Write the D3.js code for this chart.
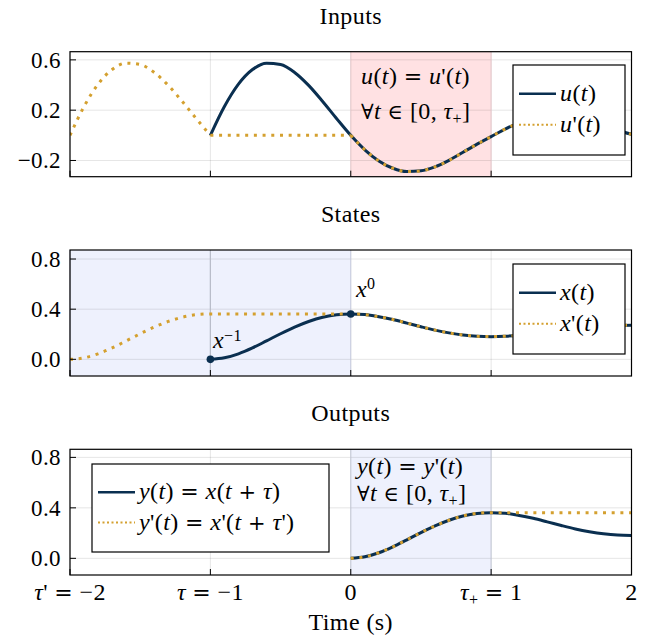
<!DOCTYPE html>
<html lang="en">
<head>
<meta charset="UTF-8">
<script src="https://d3js.org/d3.v7.min.js"></script>
<style>
    body { margin: 0; background: #fff; }
    svg text { font-family: "Liberation Serif", serif; fill: #000; letter-spacing: 0.4px; }
    .sym { font-family: "DejaVu Serif", serif; font-style: normal; }
</style>
</head>
<body>
<svg id="chart" width="648" height="637"></svg>
<script>
    // sampled time axis (s)
    const time = [-2.0, -1.9, -1.8, -1.7, -1.6, -1.5, -1.4, -1.3, -1.2, -1.1,
        -1.0, -0.9, -0.8, -0.7, -0.6, -0.5, -0.4, -0.3, -0.2, -0.1,
        0.0, 0.1, 0.2, 0.3, 0.4, 0.5, 0.6, 0.7, 0.8, 0.9,
        1.0, 1.1, 1.2, 1.3, 1.4, 1.5, 1.6, 1.7, 1.8, 1.9, 2.0];

    const N = null;
    // inputs
    const u = [N, N, N, N, N, N, N, N, N, N,
        0, 0.229, 0.407, 0.523, 0.574, 0.563, 0.500, 0.397, 0.269, 0.132,
        0, -0.115, -0.204, -0.262, -0.288, -0.282, -0.251, -0.199, -0.135, -0.070,
        -0.010, 0.050, 0.098, 0.128, 0.142, 0.141, 0.127, 0.102, 0.071, 0.038, 0.008];
    const uPrime = [0, 0.229, 0.407, 0.523, 0.574, 0.563, 0.500, 0.397, 0.269, 0.132,
        0, 0, 0, 0, 0, 0, 0, 0, 0, 0,
        0, -0.115, -0.204, -0.262, -0.288, -0.282, -0.251, -0.199, -0.135, -0.070,
        -0.010, 0.050, 0.098, 0.128, 0.142, 0.141, 0.127, 0.102, 0.071, 0.038, 0.008];
    // states
    const x = [N, N, N, N, N, N, N, N, N, N,
        0, 0.012, 0.044, 0.091, 0.147, 0.204, 0.257, 0.302, 0.336, 0.356,
        0.362, 0.357, 0.340, 0.317, 0.289, 0.260, 0.233, 0.211, 0.194, 0.184,
        0.181, 0.184, 0.192, 0.204, 0.218, 0.232, 0.245, 0.257, 0.265, 0.270, 0.272];
    const xPrime = [0, 0.012, 0.044, 0.091, 0.147, 0.204, 0.257, 0.302, 0.336, 0.356,
        0.362, 0.362, 0.362, 0.362, 0.362, 0.362, 0.362, 0.362, 0.362, 0.362,
        0.362, 0.357, 0.340, 0.317, 0.289, 0.260, 0.233, 0.211, 0.194, 0.184,
        0.181, 0.184, 0.192, 0.204, 0.218, 0.232, 0.245, 0.257, 0.265, 0.270, 0.272];
    // outputs
    const y = [N, N, N, N, N, N, N, N, N, N,
        N, N, N, N, N, N, N, N, N, N,
        0, 0.012, 0.044, 0.091, 0.147, 0.204, 0.257, 0.302, 0.336, 0.356,
        0.362, 0.357, 0.340, 0.317, 0.289, 0.260, 0.233, 0.211, 0.194, 0.184, 0.181];
    const yPrime = [N, N, N, N, N, N, N, N, N, N,
        N, N, N, N, N, N, N, N, N, N,
        0, 0.012, 0.044, 0.091, 0.147, 0.204, 0.257, 0.302, 0.336, 0.356,
        0.362, 0.362, 0.362, 0.362, 0.362, 0.362, 0.362, 0.362, 0.362, 0.362, 0.362];

    const stateMarkers = [{ t: -1, v: 0 }, { t: 0, v: 0.362 }];

    const xTicks = [-2, -1, 0, 1, 2];
    const yTicksInputs = [-0.2, 0.2, 0.6];
    const yTicksStates = [0.0, 0.4, 0.8];
    const yTicksOutputs = [0.0, 0.4, 0.8];
    const titles = ["Inputs", "States", "Outputs"];

    // little helpers for the math-ish labels
    const it = s => `<tspan font-style="italic">${s}</tspan>`;
    const eq = ` <tspan class="sym" font-size="22">=</tspan> `;
    const plus = ` <tspan class="sym" font-size="21">+</tspan> `;
    const tauPlus = after => `${it("τ")}<tspan dy="5" font-size="16">+</tspan><tspan dy="-5">${after}</tspan>`;
    const forAll = `<tspan class="sym" font-size="21">∀</tspan>${it("t")} <tspan class="sym" font-size="21">∈</tspan> [0, ${tauPlus("]")}`;
    const xTickLabels = [
        `${it("τ")}'${eq}−2`,
        `${it("τ")}${eq}−1`,
        `0`,
        tauPlus(`${eq}1`),
        `2`
    ];

    const navy = "#0a2f50", gold = "#d4a02f";
    const left = 70, right = 631.5;
    const fs = 24;

    const svg = d3.select("#chart");
    const xScale = d3.scaleLinear().domain([-2, 2]).range([left, right]);

    function makePanel(idx, top, bottom, domain, ticks) {
        const g = svg.append("g");
        const yScale = d3.scaleLinear().domain(domain).range([bottom, top]);
        g.append("clipPath").attr("id", "clip" + idx)
            .append("rect").attr("x", left).attr("y", top)
            .attr("width", right - left).attr("height", bottom - top);
        g.append("text")
            .attr("x", (left + right) / 2).attr("y", top - 28)
            .attr("text-anchor", "middle").attr("font-size", fs)
            .text(titles[idx]);
        return { g, yScale, top, bottom, ticks, clip: "url(#clip" + idx + ")" };
    }

    function span(p, t0, t1, fill, edge) {
        p.g.append("rect")
            .attr("x", xScale(t0)).attr("y", p.top)
            .attr("width", xScale(t1) - xScale(t0)).attr("height", p.bottom - p.top)
            .attr("fill", fill);
        p.edges = (p.edges || []).concat([[t0, edge], [t1, edge]]);
    }

    function grid(p) {
        const gg = p.g.append("g").attr("stroke", "#000").attr("stroke-opacity", 0.1).attr("stroke-width", 1);
        xTicks.forEach(t => gg.append("line")
            .attr("x1", xScale(t)).attr("x2", xScale(t)).attr("y1", p.top).attr("y2", p.bottom));
        p.ticks.forEach(v => gg.append("line")
            .attr("x1", left).attr("x2", right).attr("y1", p.yScale(v)).attr("y2", p.yScale(v)));
        (p.edges || []).forEach(([t, c]) => p.g.append("line")
            .attr("x1", xScale(t)).attr("x2", xScale(t)).attr("y1", p.top).attr("y2", p.bottom)
            .attr("stroke", c).attr("stroke-width", 1));
    }

    function series(p, vals, kinks, style) {
        const pts = time.map((t, i) => ({ t, v: vals[i] })).filter(d => d.v !== null);
        const bounds = [pts[0].t, ...kinks, pts[pts.length - 1].t];
        const line = d3.line().x(d => xScale(d.t)).y(d => p.yScale(d.v)).curve(d3.curveMonotoneX);
        for (let k = 0; k < bounds.length - 1; k++) {
            const seg = pts.filter(d => d.t >= bounds[k] - 1e-9 && d.t <= bounds[k + 1] + 1e-9);
            const path = p.g.append("path").attr("d", line(seg)).attr("fill", "none")
                .attr("clip-path", p.clip);
            if (style === "solid") {
                path.attr("stroke", navy).attr("stroke-width", 3);
            } else {
                path.attr("stroke", gold).attr("stroke-width", 3).attr("stroke-dasharray", "3 5.7");
            }
        }
    }

    function frame(p) {
        p.g.append("rect").attr("x", left).attr("y", p.top)
            .attr("width", right - left).attr("height", p.bottom - p.top)
            .attr("fill", "none").attr("stroke", "#000").attr("stroke-width", 1.2);
        p.ticks.forEach(v => {
            p.g.append("line").attr("x1", left).attr("x2", left + 6)
                .attr("y1", p.yScale(v)).attr("y2", p.yScale(v)).attr("stroke", "#000");
            p.g.append("text").attr("x", left - 9).attr("y", p.yScale(v)).attr("dy", "0.34em")
                .attr("text-anchor", "end").attr("font-size", fs - 1)
                .text(d3.format(".1f")(v).replace("-", "−"));
        });
        xTicks.forEach(t => p.g.append("line")
            .attr("x1", xScale(t)).attr("x2", xScale(t))
            .attr("y1", p.bottom).attr("y2", p.bottom - 6).attr("stroke", "#000"));
    }

    function legend(p, x0, y0, w, h, rows) {
        const lg = p.g.append("g");
        lg.append("rect").attr("x", x0).attr("y", y0).attr("width", w).attr("height", h)
            .attr("fill", "#fff").attr("stroke", "#000").attr("stroke-width", 1.2);
        rows.forEach((r, i) => {
            const ry = y0 + h * (i === 0 ? 0.32 : 0.665);
            const ln = lg.append("line").attr("x1", x0 + 6).attr("x2", x0 + 43)
                .attr("y1", ry).attr("y2", ry);
            if (r.style === "solid") ln.attr("stroke", navy).attr("stroke-width", 2.5);
            else ln.attr("stroke", gold).attr("stroke-width", 2).attr("stroke-dasharray", "2 2.5");
            lg.append("text").attr("x", x0 + 47).attr("y", ry + 7).attr("font-size", fs).html(r.label);
        });
    }

    function note(p, x0, y0, html, size) {
        p.g.append("text").attr("x", x0).attr("y", y0).attr("font-size", size || fs).html(html);
    }

    // ---- Inputs
    const p1 = makePanel(0, 51.7, 176.7, [-0.329, 0.665], yTicksInputs);
    span(p1, 0, 1, "#ffe1e3", "#e9cdd0");
    grid(p1);
    series(p1, u, [], "solid");
    series(p1, uPrime, [-1, 0], "dotted");
    frame(p1);
    legend(p1, 513, 65, 112, 90, [
        { style: "solid", label: `${it("u")}(${it("t")})` },
        { style: "dotted", label: `${it("u")}'(${it("t")})` }
    ]);
    note(p1, 361, 83.5, `${it("u")}(${it("t")})${eq}${it("u")}'(${it("t")})`);
    note(p1, 361, 118.5, forAll);

    // ---- States
    const p2 = makePanel(1, 250, 376, [-0.133, 0.872], yTicksStates);
    span(p2, -2, 0, "#eef1fd", "#c9cde0");
    grid(p2);
    p2.g.append("line").attr("x1", xScale(-1)).attr("x2", xScale(-1))
        .attr("y1", p2.top).attr("y2", p2.bottom).attr("stroke", "#b9bdc9").attr("stroke-width", 1.2);
    series(p2, x, [], "solid");
    series(p2, xPrime, [], "dotted");
    p2.g.selectAll("circle.mark").data(stateMarkers).enter().append("circle")
        .attr("class", "mark")
        .attr("cx", d => xScale(d.t)).attr("cy", d => p2.yScale(d.v)).attr("r", 3.8)
        .attr("fill", navy);
    frame(p2);
    legend(p2, 513, 264, 112, 90, [
        { style: "solid", label: `${it("x")}(${it("t")})` },
        { style: "dotted", label: `${it("x")}'(${it("t")})` }
    ]);
    note(p2, 213, 347.5, `${it("x")}<tspan dy="-7" font-size="16">−1</tspan>`);
    note(p2, 356, 297, `${it("x")}<tspan dy="-8" font-size="16">0</tspan>`);

    // ---- Outputs
    const p3 = makePanel(2, 449.3, 575, [-0.132, 0.864], yTicksOutputs);
    span(p3, 0, 1, "#eef1fd", "#c6cad8");
    grid(p3);
    series(p3, y, [], "solid");
    series(p3, yPrime, [], "dotted");
    frame(p3);
    legend(p3, 92, 464, 237, 88, [
        { style: "solid", label: `${it("y")}(${it("t")})${eq}${it("x")}(${it("t")}${plus}${it("τ")})` },
        { style: "dotted", label: `${it("y")}'(${it("t")})${eq}${it("x")}'(${it("t")}${plus}${it("τ")}')` }
    ]);
    note(p3, 357, 474, `${it("y")}(${it("t")})${eq}${it("y")}'(${it("t")})`);
    note(p3, 357, 501, forAll);

    // x tick labels + axis title under the last panel
    xTicks.forEach((t, i) => svg.append("text")
        .attr("x", xScale(t)).attr("y", 600).attr("text-anchor", "middle")
        .attr("font-size", fs).html(xTickLabels[i]));
    svg.append("text").attr("x", (left + right) / 2).attr("y", 630)
        .attr("text-anchor", "middle").attr("font-size", fs).text("Time (s)");
</script>
</body>
</html>
